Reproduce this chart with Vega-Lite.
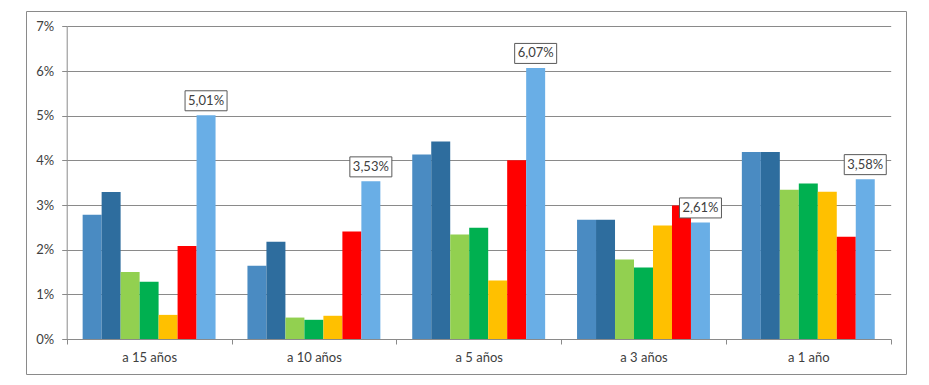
{
  "$schema": "https://vega.github.io/schema/vega-lite/v6.json",
  "width": 880,
  "height": 363,
  "autosize": "none",
  "padding": {"left": 26, "top": 11, "right": 23, "bottom": 11},
  "background": "white",
  "config": {
    "view": {"stroke": "#8a8a8a", "strokeWidth": 1},
    "font": "Lato",
    "axis": {"labelFont": "Lato", "labelFontSize": 13, "labelColor": "#404040"}
  },
  "data": {
    "values": [
      {"grupo": "a 15 años", "serie": "s1", "valor": 2.78},
      {"grupo": "a 15 años", "serie": "s2", "valor": 3.29},
      {"grupo": "a 15 años", "serie": "s3", "valor": 1.50},
      {"grupo": "a 15 años", "serie": "s4", "valor": 1.28},
      {"grupo": "a 15 años", "serie": "s5", "valor": 0.54},
      {"grupo": "a 15 años", "serie": "s6", "valor": 2.08},
      {"grupo": "a 15 años", "serie": "s7", "valor": 5.01},
      {"grupo": "a 10 años", "serie": "s1", "valor": 1.64},
      {"grupo": "a 10 años", "serie": "s2", "valor": 2.18},
      {"grupo": "a 10 años", "serie": "s3", "valor": 0.48},
      {"grupo": "a 10 años", "serie": "s4", "valor": 0.43},
      {"grupo": "a 10 años", "serie": "s5", "valor": 0.52},
      {"grupo": "a 10 años", "serie": "s6", "valor": 2.41},
      {"grupo": "a 10 años", "serie": "s7", "valor": 3.53},
      {"grupo": "a 5 años", "serie": "s1", "valor": 4.13},
      {"grupo": "a 5 años", "serie": "s2", "valor": 4.42},
      {"grupo": "a 5 años", "serie": "s3", "valor": 2.34},
      {"grupo": "a 5 años", "serie": "s4", "valor": 2.49},
      {"grupo": "a 5 años", "serie": "s5", "valor": 1.31},
      {"grupo": "a 5 años", "serie": "s6", "valor": 4.00},
      {"grupo": "a 5 años", "serie": "s7", "valor": 6.07},
      {"grupo": "a 3 años", "serie": "s1", "valor": 2.67},
      {"grupo": "a 3 años", "serie": "s2", "valor": 2.67},
      {"grupo": "a 3 años", "serie": "s3", "valor": 1.78},
      {"grupo": "a 3 años", "serie": "s4", "valor": 1.60},
      {"grupo": "a 3 años", "serie": "s5", "valor": 2.54},
      {"grupo": "a 3 años", "serie": "s6", "valor": 2.99},
      {"grupo": "a 3 años", "serie": "s7", "valor": 2.61},
      {"grupo": "a 1 año", "serie": "s1", "valor": 4.19},
      {"grupo": "a 1 año", "serie": "s2", "valor": 4.19},
      {"grupo": "a 1 año", "serie": "s3", "valor": 3.34},
      {"grupo": "a 1 año", "serie": "s4", "valor": 3.48},
      {"grupo": "a 1 año", "serie": "s5", "valor": 3.30},
      {"grupo": "a 1 año", "serie": "s6", "valor": 2.29},
      {"grupo": "a 1 año", "serie": "s7", "valor": 3.58}
    ]
  },
  "encoding": {
    "x": {
      "field": "grupo",
      "type": "nominal",
      "sort": ["a 15 años", "a 10 años", "a 5 años", "a 3 años", "a 1 año"],
      "scale": {"range": [40.7, 864.7], "paddingInner": 0, "paddingOuter": 0},
      "axis": {
        "title": null,
        "labelAngle": 0,
        "offset": -35,
        "tickBand": "extent",
        "tickSize": 5,
        "tickColor": "#8a8a8a",
        "domainColor": "#8a8a8a",
        "labelPadding": 7,
        "grid": false
      }
    },
    "xOffset": {
      "field": "serie",
      "type": "nominal",
      "scale": {"paddingInner": 0, "paddingOuter": 0.84}
    }
  },
  "layer": [
    {
      "mark": {"type": "bar"},
      "encoding": {
        "y": {
          "field": "valor",
          "type": "quantitative",
          "scale": {"domain": [0, 7], "range": [328, 15.4], "nice": false, "zero": true},
          "axis": {
            "title": null,
            "values": [0, 1, 2, 3, 4, 5, 6, 7],
            "labelExpr": "datum.value + '%'",
            "offset": -40.7,
            "grid": true,
            "gridColor": "#8a8a8a",
            "domainColor": "#8a8a8a",
            "tickColor": "#8a8a8a",
            "tickSize": 5,
            "labelPadding": 8
          }
        },
        "color": {
          "field": "serie",
          "type": "nominal",
          "scale": {
            "domain": ["s1", "s2", "s3", "s4", "s5", "s6", "s7"],
            "range": ["#4A8BC2", "#2E6D9E", "#92D050", "#00B050", "#FFC000", "#FF0000", "#69AEE6"]
          },
          "legend": null
        }
      }
    },
    {
      "transform": [{"filter": "datum.serie == 's7'"}],
      "mark": {"type": "bar", "width": 42, "fill": "white", "stroke": "#595959", "strokeWidth": 1, "yOffset": -24.5, "y2Offset": -4.5},
      "encoding": {
        "y": {"field": "valor", "type": "quantitative"},
        "y2": {"field": "valor"}
      }
    },
    {
      "transform": [
        {"filter": "datum.serie == 's7'"},
        {"calculate": "replace(format(datum.valor, '.2f'), '.', ',') + '%'", "as": "etiqueta"}
      ],
      "mark": {"type": "text", "dy": -14.5, "fontSize": 13, "color": "#404040", "baseline": "middle", "align": "center"},
      "encoding": {
        "y": {"field": "valor", "type": "quantitative"},
        "text": {"field": "etiqueta"}
      }
    }
  ]
}
